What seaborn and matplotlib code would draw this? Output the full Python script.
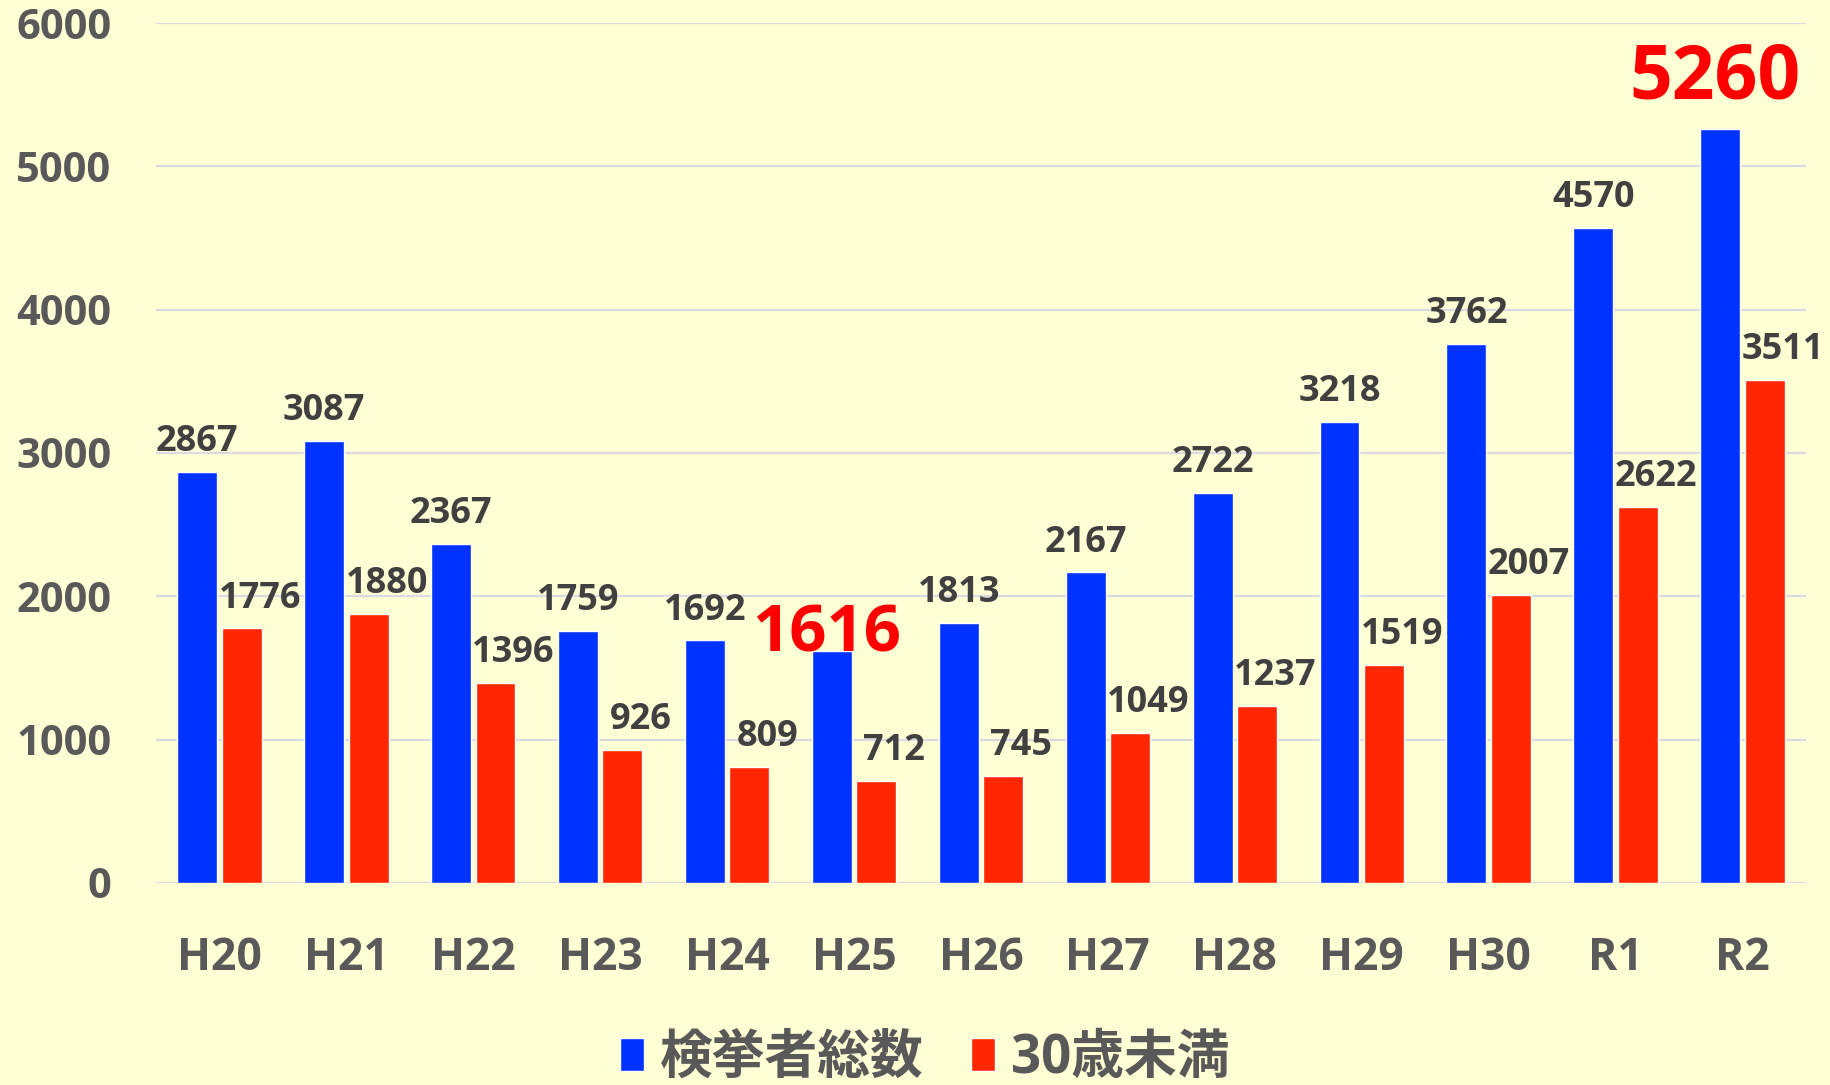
import numpy as np
import pandas as pd
import matplotlib
matplotlib.use('Agg')
import matplotlib.pyplot as plt
import seaborn as sns

years = ['H20', 'H21', 'H22', 'H23', 'H24', 'H25', 'H26', 'H27', 'H28', 'H29', 'H30', 'R1', 'R2']
total = [2867, 3087, 2367, 1759, 1692, 1616, 1813, 2167, 2722, 3218, 3762, 4570, 5260]
under30 = [1776, 1880, 1396, 926, 809, 712, 745, 1049, 1237, 1519, 2007, 2622, 3511]
series = ['検挙者総数', '30歳未満']
# labels shown big and red (series, year)
highlight = {('検挙者総数', 'H25'): 47, ('検挙者総数', 'R2'): 54}

bg = '#FFFFD6'
sns.set_theme(style='white')
plt.rcParams['font.family'] = ['Open Sans', 'Noto Sans CJK JP', 'DejaVu Sans']
plt.rcParams['font.weight'] = 'bold'

df = pd.DataFrame({
    'year': years * 2,
    'count': total + under30,
    'kind': [series[0]] * len(years) + [series[1]] * len(years),
})

fig = plt.figure(figsize=(18.31, 10.85), dpi=100, facecolor=bg)
ax = fig.add_axes([0.0852, 0.1862, 0.9011, 0.7926])
ax.set_facecolor(bg)

sns.barplot(data=df, x='year', y='count', hue='kind', hue_order=series,
            palette=['#0033FF', '#FF2600'], width=0.7, gap=0.1,
            saturation=1, ax=ax, legend=True)

ax.set_ylim(0, 6000)
ax.set_xlim(-0.5, len(years) - 0.5)
ax.set_yticks(np.arange(0, 6001, 1000))
ax.yaxis.grid(True, color='#DADAE2', linewidth=1.6)
ax.set_axisbelow(True)
for s in ax.spines.values():
    s.set_visible(False)
ax.set_xlabel('')
ax.set_ylabel('')
ax.tick_params(axis='y', length=0, pad=32, labelsize=30, labelcolor='#595959')
ax.tick_params(axis='x', length=0, pad=38, labelsize=32, labelcolor='#595959')
for t in ax.get_xticklabels() + ax.get_yticklabels():
    t.set_fontweight('bold')

# value labels
for cont, name in zip(ax.containers, series):
    dx = 0 if name == series[0] else 13
    for bar, yr in zip(cont, years):
        h = bar.get_height()
        xc = bar.get_x() + bar.get_width() / 2
        size = highlight.get((name, yr))
        if size:
            dy = 0 if yr == 'H25' else 22
            ax.annotate(f'{int(h)}', (xc, h), xytext=(-4, dy), textcoords='offset points',
                        ha='center', va='baseline', fontsize=size, fontweight='bold',
                        color='#FF0000', annotation_clip=False)
        else:
            ax.annotate(f'{int(h)}', (xc, h), xytext=(dx, 15), textcoords='offset points',
                        ha='center', va='baseline', fontsize=26, fontweight='bold',
                        color='#404040', annotation_clip=False)

handles, labels = ax.get_legend_handles_labels()
ax.get_legend().remove()
fig.legend(handles, labels, loc='center', bbox_to_anchor=(0.505, 0.024), ncol=2,
           frameon=False, labelcolor='#595959', handlelength=0.45,
           handleheight=0.6, handletextpad=0.3, columnspacing=0.9,
           prop={'weight': 'bold', 'size': 38})

fig.savefig('out.png', dpi=100, facecolor=bg)
